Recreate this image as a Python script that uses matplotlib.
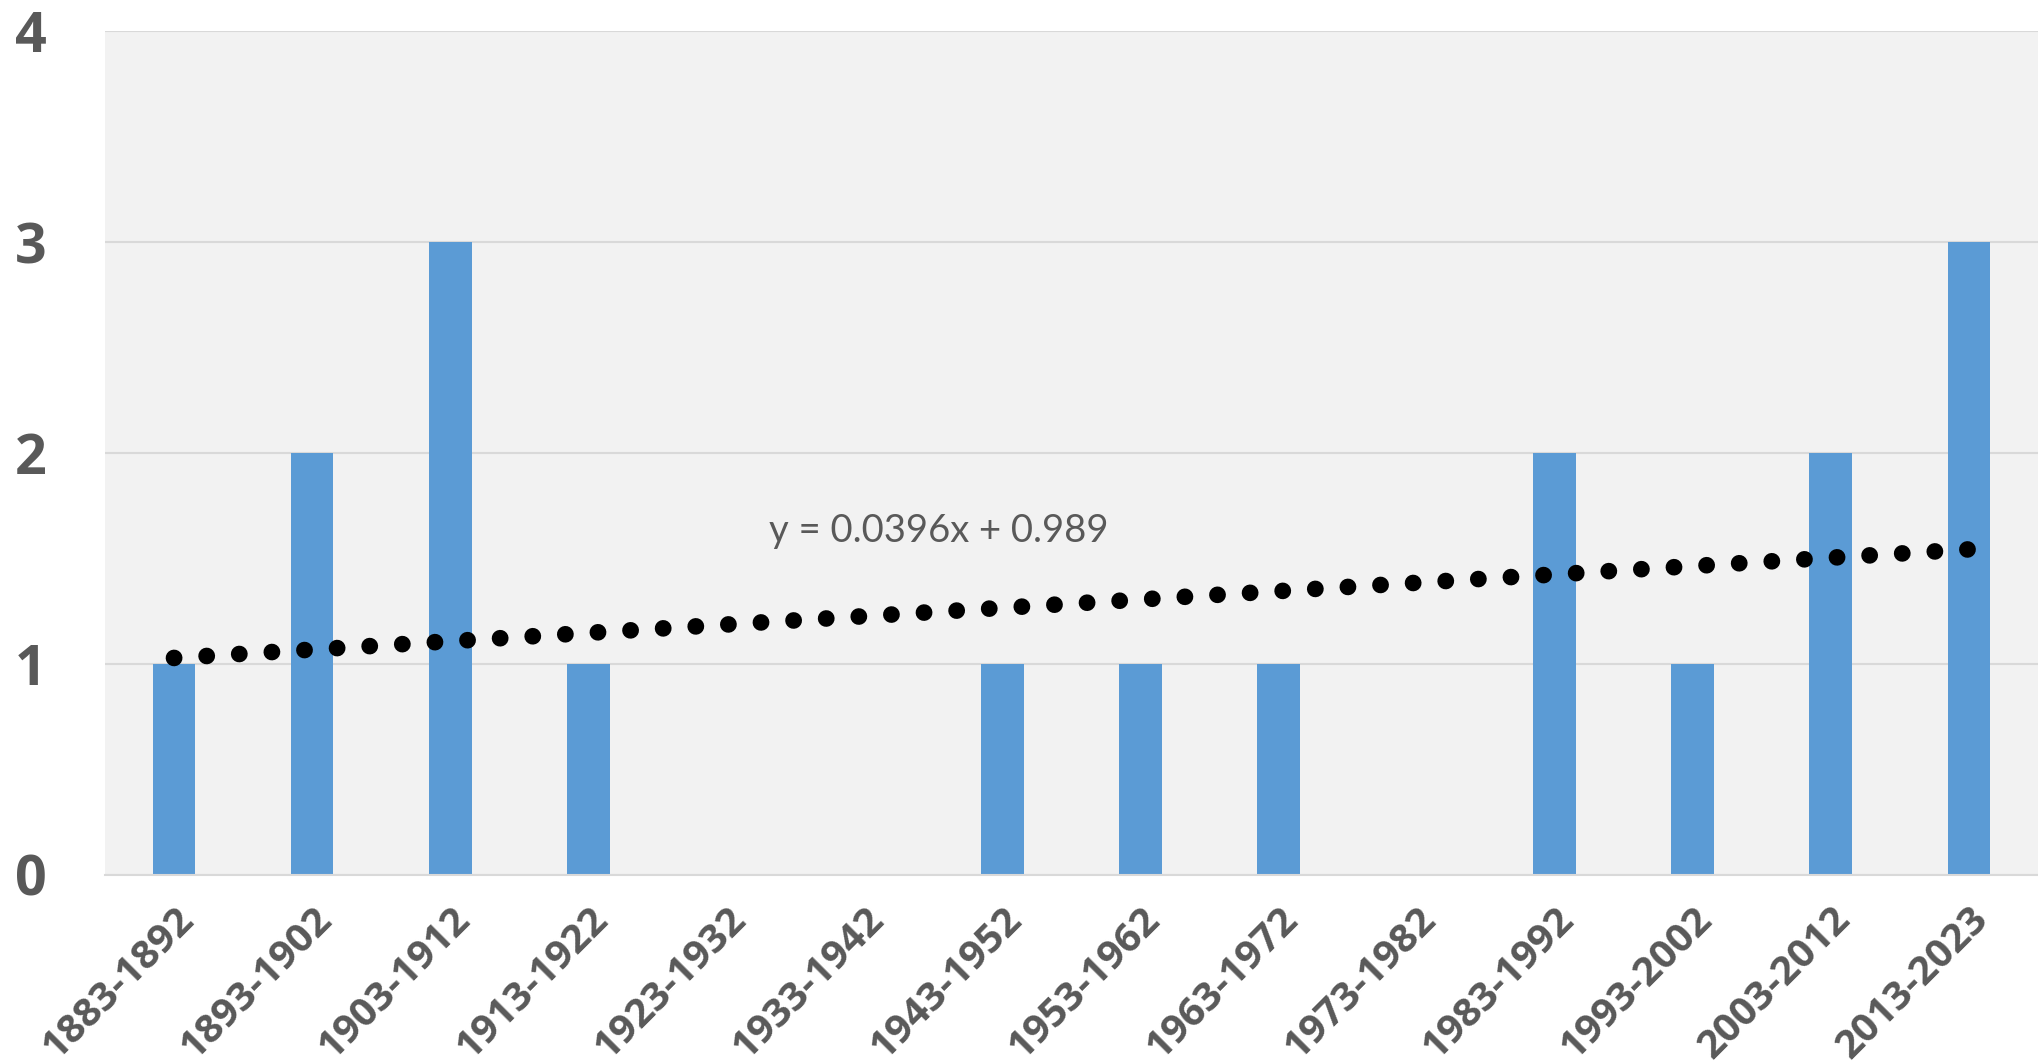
import matplotlib
matplotlib.use("Agg")
import matplotlib.pyplot as plt
import numpy as np

# decades and counts
periods = ["1883-1892", "1893-1902", "1903-1912", "1913-1922", "1923-1932",
           "1933-1942", "1943-1952", "1953-1962", "1963-1972", "1973-1982",
           "1983-1992", "1993-2002", "2003-2012", "2013-2023"]
counts = [1, 2, 3, 1, 0, 0, 1, 1, 1, 0, 2, 1, 2, 3]

# linear trendline as shown on the chart
slope = 0.0396
intercept = 0.989
eq_label = "y = 0.0396x + 0.989"

TXT = "#595959"
plt.rcParams["font.family"] = ["Open Sans", "DejaVu Sans"]

fig = plt.figure(figsize=(20.38, 10.64), dpi=100)
ax = fig.add_axes([0.0515, 0.1777, 0.9485, 0.793])
ax.set_facecolor("#F2F2F2")

x = np.arange(len(periods))
ax.bar(x, counts, width=0.31, color="#5B9BD5", zorder=2)

# trendline (Excel x starts at 1)
xt = np.array([1, len(periods)])
yt = slope * xt + intercept
ax.plot(xt - 1, yt, color="black", linewidth=12,
        linestyle=(0, (0.01, 1.95)), dash_capstyle="round", zorder=3)
ax.text(5.54, 1.63, eq_label, fontsize=27.5, color=TXT, ha="center", va="center",
        family=["Lato", "DejaVu Sans"], zorder=4)

ax.set_xlim(-0.5, len(periods) - 0.5)
ax.set_ylim(0, 4)
ax.set_yticks([0, 1, 2, 3, 4])
ax.yaxis.grid(True, color="#D9D9D9", linewidth=1.5, zorder=1)
ax.set_axisbelow(True)
for s in ["left", "right", "top"]:
    ax.spines[s].set_visible(False)
ax.spines["bottom"].set_color("#D9D9D9")
ax.spines["bottom"].set_linewidth(1.5)

ax.set_xticks(x)
ax.set_xticklabels(periods, rotation=45, ha="right", rotation_mode="anchor",
                   fontsize=29, fontweight="bold", color=TXT)
ax.tick_params(axis="x", length=0, pad=18)
ax.tick_params(axis="y", length=0, pad=42, labelsize=40, labelcolor=TXT)
for lab in ax.get_yticklabels():
    lab.set_fontweight("bold")

fig.savefig("out.png", dpi=100, facecolor="white")
